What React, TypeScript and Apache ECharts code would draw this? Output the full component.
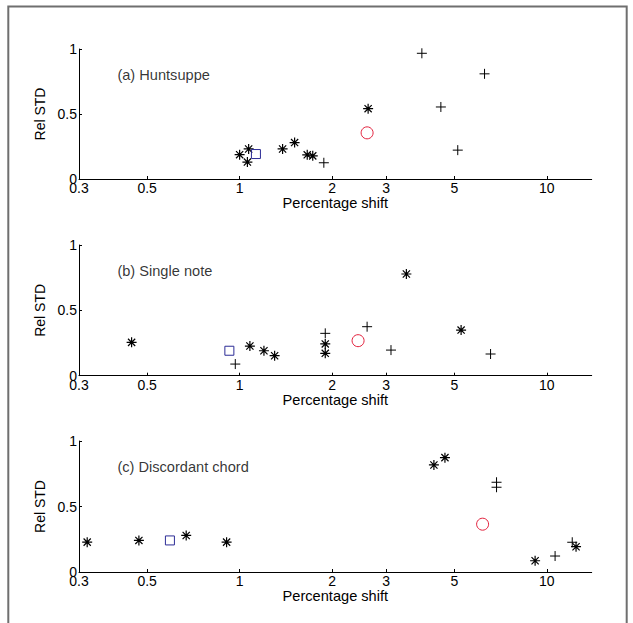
import React, { useEffect, useRef } from 'react';
import * as echarts from 'echarts';

// Tick values
const xTicks = [0.3, 0.5, 1, 2, 3, 5, 10];
const yTicks = [0, 0.5, 1];

// Panel titles
const panelTitles = ['(a) Huntsuppe', '(b) Single note', '(c) Discordant chord'];
const titleAt = [0.4, 0.8];

// Panel (a) Huntsuppe
const aStar = [[1.0, 0.187], [1.07, 0.231], [1.06, 0.13], [1.38, 0.231], [1.51, 0.28], [1.66, 0.186], [1.73, 0.178], [2.62, 0.541]];
const aPlus = [[1.88, 0.125], [3.92, 0.967], [6.27, 0.809], [4.52, 0.554], [5.13, 0.222]];
const aSquare = [[1.13, 0.192]];
const aCircle = [[2.6, 0.355]];

// Panel (b) Single note
const bStar = [[0.445, 0.255], [1.08, 0.227], [1.2, 0.191], [1.3, 0.153], [1.9, 0.243], [1.9, 0.171], [3.49, 0.778], [5.26, 0.349]];
const bPlus = [[0.968, 0.089], [1.9, 0.324], [2.6, 0.375], [3.11, 0.196], [6.56, 0.166]];
const bSquare = [[0.926, 0.191]];
const bCircle = [[2.43, 0.268]];

// Panel (c) Discordant chord
const cStar = [[0.319, 0.228], [0.47, 0.241], [0.67, 0.279], [0.907, 0.228], [4.29, 0.817], [4.66, 0.873], [9.16, 0.086], [12.45, 0.193]];
const cPlus = [[6.86, 0.685], [6.86, 0.647], [10.64, 0.122], [12.1, 0.227]];
const cSquare = [[0.593, 0.241]];
const cCircle = [[6.18, 0.365]];

const panels = [
  { star: aStar, plus: aPlus, square: aSquare, circle: aCircle },
  { star: bStar, plus: bPlus, square: bSquare, circle: bCircle },
  { star: cStar, plus: cPlus, square: cSquare, circle: cCircle },
];

const STAR = 'path://M0,-1L0,1M-1,0L1,0M-0.72,-0.72L0.72,0.72M-0.72,0.72L0.72,-0.72';
const PLUS = 'path://M0,-1L0,1M-1,0L1,0';
const FONT = '"Liberation Sans", Arial, Helvetica, sans-serif';

const gridTops = [49, 245, 441];
const gridHeights = [130, 130.7, 131];

export default function App() {
  const ref = useRef<HTMLDivElement>(null);
  useEffect(() => {
    if (!ref.current) return;
    const chart = echarts.init(ref.current, null, { renderer: 'svg' });
    const grids: any[] = [];
    const xAxes: any[] = [];
    const yAxes: any[] = [];
    const series: any[] = [];
    panels.forEach((p, i) => {
      grids.push({ left: 79, top: gridTops[i], width: 512.7, height: gridHeights[i] });
      xAxes.push({
        type: 'log',
        logBase: 10,
        gridIndex: i,
        min: 0.3,
        max: 14,
        name: 'Percentage shift',
        nameLocation: 'middle',
        nameGap: 12,
        nameTextStyle: { fontSize: 14.6, color: '#000', fontFamily: FONT },
        axisLine: { onZero: false, lineStyle: { color: '#000', width: 1 } },
        axisTick: { inside: true, length: 3, customValues: xTicks, lineStyle: { color: '#000' } },
        axisLabel: {
          customValues: xTicks,
          margin: 2,
          fontSize: 14,
          color: '#000',
          fontFamily: FONT,
          formatter: (v: number) => String(v),
        },
        splitLine: { show: false },
        minorTick: { show: false },
      });
      yAxes.push({
        type: 'value',
        gridIndex: i,
        min: 0,
        max: 1,
        interval: 0.5,
        name: 'Rel STD',
        nameLocation: 'middle',
        nameGap: 26,
        nameTextStyle: { fontSize: 14, color: '#000', fontFamily: FONT },
        axisLine: { show: true, onZero: false, lineStyle: { color: '#000', width: 1 } },
        axisTick: { show: true, inside: true, length: 3, lineStyle: { color: '#000' } },
        axisLabel: {
          margin: 2,
          fontSize: 14,
          color: '#000',
          fontFamily: FONT,
          customValues: yTicks,
          formatter: (v: number) => String(v),
        },
        splitLine: { show: false },
      });
      const base = { type: 'scatter', xAxisIndex: i, yAxisIndex: i, silent: true };
      series.push({
        ...base,
        data: p.star,
        symbol: STAR,
        symbolSize: 10,
        itemStyle: { color: 'rgba(0,0,0,0)', borderColor: '#000', borderWidth: 1.2, opacity: 1 },
      });
      series.push({
        ...base,
        data: p.plus,
        symbol: PLUS,
        symbolSize: 10,
        itemStyle: { color: 'rgba(0,0,0,0)', borderColor: '#000', borderWidth: 1, opacity: 1 },
      });
      series.push({
        ...base,
        data: p.square,
        symbol: 'rect',
        symbolSize: 9,
        itemStyle: { color: 'rgba(0,0,0,0)', borderColor: '#2c2c96', borderWidth: 1, opacity: 1 },
      });
      series.push({
        ...base,
        data: p.circle,
        symbol: 'circle',
        symbolSize: 12,
        itemStyle: { color: 'rgba(0,0,0,0)', borderColor: '#e3203c', borderWidth: 1, opacity: 1 },
      });
      series.push({
        ...base,
        data: [titleAt],
        symbol: 'circle',
        symbolSize: 0,
        itemStyle: { color: 'rgba(0,0,0,0)' },
        label: {
          show: true,
          position: 'right',
          distance: 0,
          formatter: panelTitles[i],
          fontSize: 14.6,
          color: '#000',
          fontFamily: FONT,
        },
      });
    });
    chart.setOption({
      animation: false,
      backgroundColor: '#fff',
      grid: grids,
      xAxis: xAxes,
      yAxis: yAxes,
      series,
      graphic: [
        {
          type: 'rect',
          shape: { x: 8.3, y: 6.5, width: 618.4, height: 640 },
          style: { fill: 'none', stroke: '#6f6f6f', lineWidth: 2 },
          silent: true,
          z: 100,
        },
      ],
    });
    return () => chart.dispose();
  }, []);
  return (
    <div
      ref={ref}
      style={{ position: 'fixed', left: 0, top: 0, width: 633, height: 623, background: '#fff' }}
    />
  );
}
